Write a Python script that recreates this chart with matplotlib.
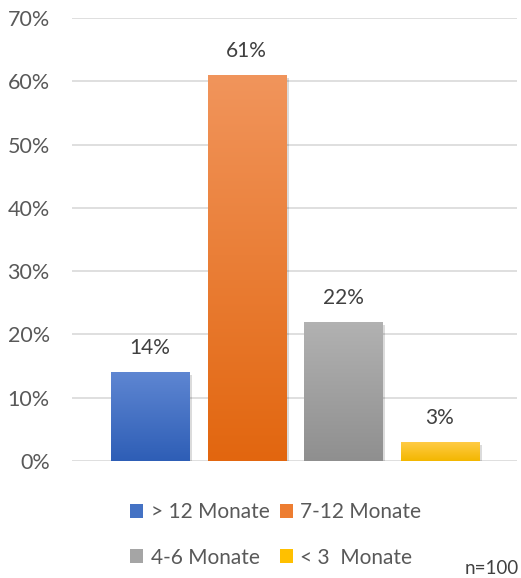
import matplotlib
matplotlib.use("Agg")
import matplotlib.pyplot as plt
import numpy as np
from matplotlib.colors import LinearSegmentedColormap
from matplotlib.patches import Patch
import matplotlib.patheffects as pe

categories = ["> 12 Monate", "7-12 Monate", "4-6 Monate", "< 3  Monate"]
values = [14, 61, 22, 3]
yticks = [0, 10, 20, 30, 40, 50, 60, 70]
top_colors = ["#5E86D2", "#F1955C", "#B2B2B2", "#FFCB45"]
bottom_colors = ["#2E5EB6", "#E2660F", "#8F8F8F", "#F3B700"]
legend_colors = ["#4472C4", "#ED7D31", "#A5A5A5", "#FFC000"]

plt.rcParams['font.family'] = ['Lato', 'DejaVu Sans']

fig = plt.figure(figsize=(5.21, 5.78), dpi=100)
ax = fig.add_axes([72/521, (578-461)/578, (517-72)/521, (461-18)/578])

x = np.arange(len(categories))
bars = ax.bar(x, values, width=0.81, color=legend_colors, zorder=3,
              path_effects=[pe.SimplePatchShadow(offset=(2, -2), shadow_rgbFace='#000000', alpha=0.14), pe.Normal()])

grad = np.linspace(0, 1, 256).reshape(-1, 1)
for b, tc, bc in zip(bars, top_colors, bottom_colors):
    cmap = LinearSegmentedColormap.from_list("g", [bc, tc])
    x0, y0 = b.get_x(), b.get_y()
    w, h = b.get_width(), b.get_height()
    im = ax.imshow(grad, cmap=cmap, aspect='auto', origin='lower',
                   extent=[x0, x0 + w, y0, y0 + h], zorder=4)
    im.set_clip_path(b)

for xi, v in zip(x, values):
    ax.annotate(f"{v}%", (xi, v), xytext=(0, 24), textcoords='offset pixels',
                ha='center', va='center', fontsize=15, color='#404040')

ax.set_xlim(-0.81, 3.8)
ax.set_ylim(0, 70)
ax.set_yticks(yticks)
ax.set_yticklabels([f"{t}%" for t in yticks], fontsize=15.5, color='#595959')
ax.tick_params(axis='y', length=0, pad=16)
ax.set_xticks([])
ax.grid(axis='y', color='#D9D9D9', linewidth=1.2, zorder=0)
for s in ax.spines.values():
    s.set_visible(False)
ax.set_axisbelow(True)

order = [0, 2, 1, 3]
handles = [Patch(facecolor=legend_colors[i]) for i in order]
labels = [categories[i] for i in order]
leg = fig.legend(handles, labels, loc='center left', bbox_to_anchor=(120/521, 1 - 535/578),
                 ncol=2, frameon=False, fontsize=15, labelcolor='#595959',
                 handlelength=0.62, handleheight=0.62, handletextpad=0.35,
                 columnspacing=0.5, labelspacing=1.2, borderpad=0)

fig.text(519/521, 1 - 568/578, "n=100", ha='right', va='center', fontsize=13.5, color='#404040')

fig.savefig("out.png", dpi=100)
